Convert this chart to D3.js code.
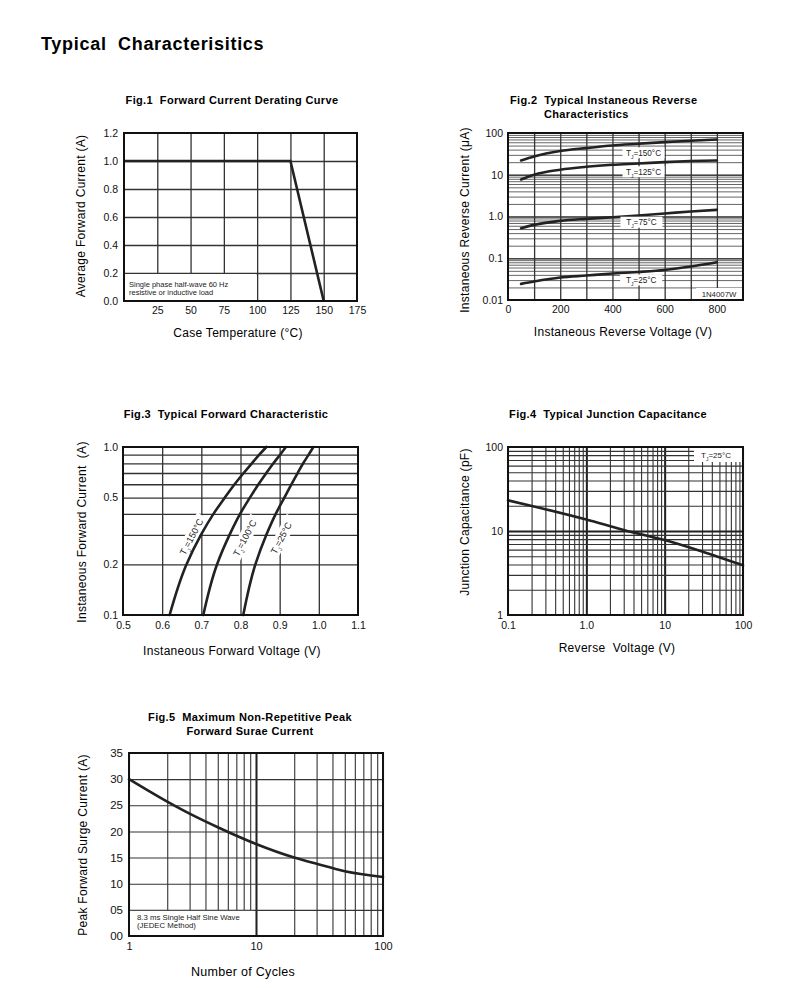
<!DOCTYPE html>
<html>
<head>
<meta charset="utf-8">
<script src="https://cdn.jsdelivr.net/npm/d3@7"></script>
<style>
  body { margin: 0; background: #fff; }
  svg { font-family: "Liberation Sans", Arial, sans-serif; }
  svg text { white-space: pre; }
</style>
</head>
<body>
<div id="chart"></div>
<script>
// ---- data ----
var fig1XTicks = [25, 50, 75, 100, 125, 150, 175];
var fig1YTicks = [0, 0.2, 0.4, 0.6, 0.8, 1.0, 1.2];
var fig1Temp = [0, 125, 150];
var fig1Amp = [1.0, 1.0, 0.0];

var fig2XTicks = [0, 200, 400, 600, 800];
var fig2YTicks = [0.01, 0.1, 1, 10, 100];
var fig2YLabels = ["0.01", "0.1", "1.0", "10", "100"];
var fig2Volt = [50, 100, 200, 300, 400, 500, 600, 700, 800];
var fig2Tj150 = [22, 27.4, 36.9, 43.5, 50.3, 55.2, 60.5, 65, 69.8];
var fig2Tj125 = [7.7, 10, 13.2, 15.5, 17.3, 18.6, 20.1, 21.3, 22];
var fig2Tj75 = [0.525, 0.63, 0.785, 0.877, 0.96, 1.06, 1.18, 1.32, 1.44];
var fig2Tj25 = [0.0243, 0.0277, 0.0345, 0.0385, 0.043, 0.047, 0.0525, 0.0632, 0.08];
var fig2LabelTemps = ["150", "125", "75", "25"];
var fig2LabelV = [519, 519, 511, 510];
var fig2LabelI = [33.6, 11.8, 0.73, 0.0302];

var fig3XTicks = [0.5, 0.6, 0.7, 0.8, 0.9, 1.0, 1.1];
var fig3YTicks = [0.1, 0.2, 0.5, 1.0];
var fig3Amp = [0.1, 0.2, 0.3, 0.4, 0.5, 0.6, 0.7, 0.8, 0.9, 1.0];
var fig3Tj150 = [0.619, 0.662, 0.699, 0.731, 0.760, 0.785, 0.808, 0.829, 0.848, 0.866];
var fig3Tj100 = [0.705, 0.740, 0.772, 0.799, 0.824, 0.846, 0.866, 0.884, 0.901, 0.916];
var fig3Tj25 = [0.807, 0.838, 0.866, 0.890, 0.912, 0.930, 0.946, 0.960, 0.974, 0.986];
var fig3LabelTemps = ["150", "100", "25"];
var fig3LabelV = [0.675, 0.811, 0.904];
var fig3LabelI = [0.292, 0.287, 0.287];

var fig4XTicks = [0.1, 1, 10, 100];
var fig4XLabels = ["0.1", "1.0", "10", "100"];
var fig4YTicks = [1, 10, 100];
var fig4Volt = [0.1, 0.3, 1, 3, 10, 30, 100];
var fig4Cap = [23.2, 18.2, 13.7, 10.3, 7.8, 5.7, 3.9];

var fig5XTicks = [1, 10, 100];
var fig5YTicks = [0, 5, 10, 15, 20, 25, 30, 35];
var fig5Cycles = [1, 2, 3, 5, 10, 20, 30, 50, 100];
var fig5Amp = [30, 25.7, 23.4, 20.8, 17.6, 15.0, 13.8, 12.4, 11.3];

var W = 790, H = 988;
var svg = d3.select("#chart").append("svg").attr("width", W).attr("height", H);

svg.append("text").attr("x", 41).attr("y", 50)
  .style("font-size", "18px").style("font-weight", "bold").style("letter-spacing", "0.7px")
  .text("Typical  Characterisitics");

// log minor grid values (1..9 of each decade, plus top decade)
function logGrid(lo, hi) {
  var out = [];
  for (var d = lo; d < hi * 0.999; d *= 10) {
    for (var k = 1; k < 10; k++) out.push(d * k);
  }
  out.push(hi);
  return out;
}

function panel(left, top) {
  return svg.append("g").attr("transform", "translate(" + left + "," + top + ")");
}

function gridX(g, x, vals, h, color, width) {
  var a = g.append("g").attr("transform", "translate(0," + h + ")")
    .call(d3.axisBottom(x).tickValues(vals).tickSize(-h).tickFormat(""));
  a.select(".domain").remove();
  a.selectAll("line").attr("stroke", color).attr("stroke-width", width);
  return a;
}

function gridY(g, y, vals, w, color, width) {
  var a = g.append("g")
    .call(d3.axisLeft(y).tickValues(vals).tickSize(-w).tickFormat(""));
  a.select(".domain").remove();
  a.selectAll("line").attr("stroke", color).attr("stroke-width", width);
  return a;
}

function labelsX(g, x, vals, fmt, h, pad, size) {
  var a = g.append("g").attr("transform", "translate(0," + h + ")")
    .call(d3.axisBottom(x).tickValues(vals).tickSize(0).tickPadding(pad).tickFormat(fmt));
  a.select(".domain").remove();
  a.selectAll("text").style("font-size", size + "px").attr("fill", "#111")
    .style("font-family", "'Liberation Sans', Arial, sans-serif");
}

function labelsY(g, y, vals, fmt, pad, size) {
  var a = g.append("g")
    .call(d3.axisLeft(y).tickValues(vals).tickSize(0).tickPadding(pad).tickFormat(fmt));
  a.select(".domain").remove();
  a.selectAll("text").style("font-size", size + "px").attr("fill", "#111")
    .style("font-family", "'Liberation Sans', Arial, sans-serif");
}

function border(g, w, h) {
  g.append("rect").attr("width", w).attr("height", h)
    .attr("fill", "none").attr("stroke", "#111").attr("stroke-width", 2);
}

function title(lines, x, y, anchor) {
  var t = svg.append("text").attr("x", x).attr("y", y).attr("text-anchor", anchor || "middle")
    .style("font-size", "11px").style("font-weight", "bold").style("letter-spacing", "0.35px");
  lines.forEach(function (s, i) {
    t.append("tspan").attr("x", i == 0 ? x : (anchor == "start" ? x + 34 : x)).attr("dy", i == 0 ? 0 : 14).text(s);
  });
}

function axisTitleX(s, x, y, size) {
  svg.append("text").attr("x", x).attr("y", y).attr("text-anchor", "middle")
    .style("font-size", (size || 12) + "px").style("letter-spacing", "0.3px").text(s);
}

function axisTitleY(s, x, y, size) {
  svg.append("text").attr("transform", "translate(" + x + "," + y + ") rotate(-90)")
    .attr("text-anchor", "middle").attr("dominant-baseline", "central")
    .style("font-size", (size || 12) + "px").style("letter-spacing", "0.3px").text(s);
}

function tjText(sel, temp, size) {
  sel.style("font-size", size + "px").attr("fill", "#222");
  sel.append("tspan").text("T");
  sel.append("tspan").attr("baseline-shift", "sub").style("font-size", (size * 0.6) + "px").text("J");
  sel.append("tspan").text("=" + temp + "°C");
}

function curve(g, xs, ys, x, y, c) {
  var pts = xs.map(function (v, i) { return [x(v), y(ys[i])]; });
  g.append("path").attr("d", d3.line().curve(c || d3.curveCatmullRom)(pts))
    .attr("fill", "none").attr("stroke", "#222").attr("stroke-width", 2.6)
    .attr("stroke-linecap", "round");
}

// ---------- Fig.1 ----------
(function () {
  var w = 233, h = 168;
  var g = panel(124, 133);
  var x = d3.scaleLinear().domain([0, 175]).range([0, w]);
  var y = d3.scaleLinear().domain([0, 1.2]).range([h, 0]);
  gridX(g, x, [25, 50, 75, 100, 125, 150], h, "#333", 1.3);
  gridY(g, y, [0.2, 0.4, 0.6, 0.8, 1.0], w, "#333", 1.3);
  g.append("rect").attr("x", 1).attr("y", y(0.2) + 1).attr("width", x(99) - 1)
    .attr("height", y(0) - y(0.2) - 2).attr("fill", "#fff");
  var note = g.append("text").attr("x", 5).attr("y", y(0) - 14).style("font-size", "7.5px").attr("fill", "#222");
  note.append("tspan").attr("x", 5).text("Single phase half-wave 60 Hz");
  note.append("tspan").attr("x", 5).attr("dy", 8).text("resistive or inductive load");
  g.append("path").attr("d", d3.line()(fig1Temp.map(function (v, i) { return [x(v), y(fig1Amp[i])]; })))
    .attr("fill", "none").attr("stroke", "#222").attr("stroke-width", 2.6);
  border(g, w, h);
  labelsX(g, x, fig1XTicks, d3.format("d"), h, 6, 10.5);
  labelsY(g, y, fig1YTicks, d3.format(".1f"), 6, 10.5);
  title(["Fig.1  Forward Current Derating Curve"], 232, 104);
  axisTitleX("Case Temperature (°C)", 238, 337);
  axisTitleY("Average Forward Current (A)", 81, 216);
})();

// ---------- Fig.2 ----------
(function () {
  var w = 235, h = 167;
  var g = panel(508, 133);
  var x = d3.scaleLinear().domain([0, 900]).range([0, w]);
  var y = d3.scaleLog().domain([0.01, 100]).range([h, 0]);
  gridY(g, y, logGrid(0.01, 100), w, "#666", 1);
  gridY(g, y, [0.1, 1, 10], w, "#444", 1.4);
  gridX(g, x, [100, 200, 300, 400, 500, 600, 700, 800], h, "#333", 1.3);
  [fig2Tj150, fig2Tj125, fig2Tj75, fig2Tj25].forEach(function (s) {
    curve(g, fig2Volt, s, x, y, d3.curveMonotoneX);
  });
  fig2LabelTemps.forEach(function (t, i) {
    var cx = x(fig2LabelV[i]), cy = y(fig2LabelI[i]);
    g.append("rect").attr("x", cx - 21).attr("y", cy - 5.5).attr("width", 42).attr("height", 11).attr("fill", "#fff");
    var tx = g.append("text").attr("x", cx).attr("y", cy + 2.9).attr("text-anchor", "middle");
    tjText(tx, t, 8.2);
  });
  g.append("rect").attr("x", w - 47).attr("y", h - 12).attr("width", 46).attr("height", 11).attr("fill", "#fff");
  g.append("text").attr("x", w - 24).attr("y", h - 3.5).attr("text-anchor", "middle")
    .style("font-size", "7.8px").attr("fill", "#222").text("1N4007W");
  border(g, w, h);
  labelsX(g, x, fig2XTicks, d3.format("d"), h, 6, 10.5);
  labelsY(g, y, fig2YTicks, function (d) { return fig2YLabels[fig2YTicks.indexOf(d)]; }, 5, 10.5);
  title(["Fig.2  Typical Instaneous Reverse", "Characteristics"], 510, 104, "start");
  axisTitleX("Instaneous Reverse Voltage (V)", 623, 336);
  axisTitleY("Instaneous Reverse Current (μA)", 465, 220);
})();

// ---------- Fig.3 ----------
(function () {
  var w = 235, h = 168;
  var g = panel(123, 447);
  var x = d3.scaleLinear().domain([0.5, 1.1]).range([0, w]);
  var y = d3.scaleLog().domain([0.1, 1.0]).range([h, 0]);
  gridX(g, x, [0.6, 0.7, 0.8, 0.9, 1.0], h, "#333", 1.3);
  gridY(g, y, [0.2, 0.3, 0.4, 0.5, 0.6, 0.7, 0.8, 0.9], w, "#333", 1.3);
  fig3LabelTemps.forEach(function (t, i) {
    var cx = x(fig3LabelV[i]), cy = y(fig3LabelI[i]);
    var lg = g.append("g").attr("transform", "translate(" + cx + "," + cy + ") rotate(-62)");
    lg.append("rect").attr("x", -24).attr("y", -6.5).attr("width", 48).attr("height", 13).attr("fill", "#fff");
    var tx = lg.append("text").attr("x", 0).attr("y", 3.2).attr("text-anchor", "middle");
    tjText(tx, t, 9.2);
  });
  [fig3Tj150, fig3Tj100, fig3Tj25].forEach(function (s) {
    curve(g, s, fig3Amp, x, y, d3.curveMonotoneY);
  });
  border(g, w, h);
  labelsX(g, x, fig3XTicks, d3.format(".1f"), h, 7, 10.5);
  labelsY(g, y, fig3YTicks, d3.format(".1f"), 5, 10.5);
  title(["Fig.3  Typical Forward Characteristic"], 226, 418);
  axisTitleX("Instaneous Forward Voltage (V)", 232, 655);
  axisTitleY("Instaneous Forward Current  (A)", 82, 532);
})();

// ---------- Fig.4 ----------
(function () {
  var w = 235, h = 168;
  var g = panel(508, 447);
  var x = d3.scaleLog().domain([0.1, 100]).range([0, w]);
  var y = d3.scaleLog().domain([1, 100]).range([h, 0]);
  gridX(g, x, logGrid(0.1, 100), h, "#333", 1.1);
  gridX(g, x, [1, 10], h, "#222", 2);
  gridY(g, y, logGrid(1, 100), w, "#333", 1.1);
  gridY(g, y, [10], w, "#222", 2);
  g.append("rect").attr("x", w - 49).attr("y", 1).attr("width", 48).attr("height", 14).attr("fill", "#fff");
  var tx = g.append("text").attr("x", w - 27).attr("y", 10.5).attr("text-anchor", "middle");
  tjText(tx, "25", 8);
  curve(g, fig4Volt, fig4Cap, x, y, d3.curveMonotoneX);
  border(g, w, h);
  labelsX(g, x, fig4XTicks, function (d) { return fig4XLabels[fig4XTicks.indexOf(d)]; }, h, 7, 10.5);
  labelsY(g, y, fig4YTicks, d3.format("d"), 5, 10.5);
  title(["Fig.4  Typical Junction Capacitance"], 608, 418);
  axisTitleX("Reverse  Voltage (V)", 617, 652);
  axisTitleY("Junction Capacitance (pF)", 465, 522);
})();

// ---------- Fig.5 ----------
(function () {
  var w = 254, h = 183;
  var g = panel(129, 753);
  var x = d3.scaleLog().domain([1, 100]).range([0, w]);
  var y = d3.scaleLinear().domain([0, 35]).range([h, 0]);
  gridX(g, x, logGrid(1, 100), h, "#333", 1.1);
  gridX(g, x, [10], h, "#222", 2);
  gridY(g, y, [5, 10, 15, 20, 25, 30], w, "#333", 1.1);
  g.append("rect").attr("x", 1).attr("y", y(5) + 1).attr("width", x(9.6) - 1)
    .attr("height", y(0) - y(5) - 2).attr("fill", "#fff");
  var note = g.append("text").attr("x", 8).attr("y", y(0) - 16).style("font-size", "7.8px").attr("fill", "#222");
  note.append("tspan").attr("x", 8).text("8.3 ms Single Half Sine Wave");
  note.append("tspan").attr("x", 8).attr("dy", 8).text("(JEDEC Method)");
  curve(g, fig5Cycles, fig5Amp, x, y, d3.curveMonotoneX);
  border(g, w, h);
  labelsX(g, x, fig5XTicks, d3.format("d"), h, 6, 11);
  labelsY(g, y, fig5YTicks, d3.format("02d"), 6, 11.5);
  title(["Fig.5  Maximum Non-Repetitive Peak", "Forward Surae Current"], 250, 721);
  axisTitleX("Number of Cycles", 243, 976, 12.5);
  axisTitleY("Peak Forward Surge Current (A)", 83, 845);
})();
</script>
</body>
</html>
